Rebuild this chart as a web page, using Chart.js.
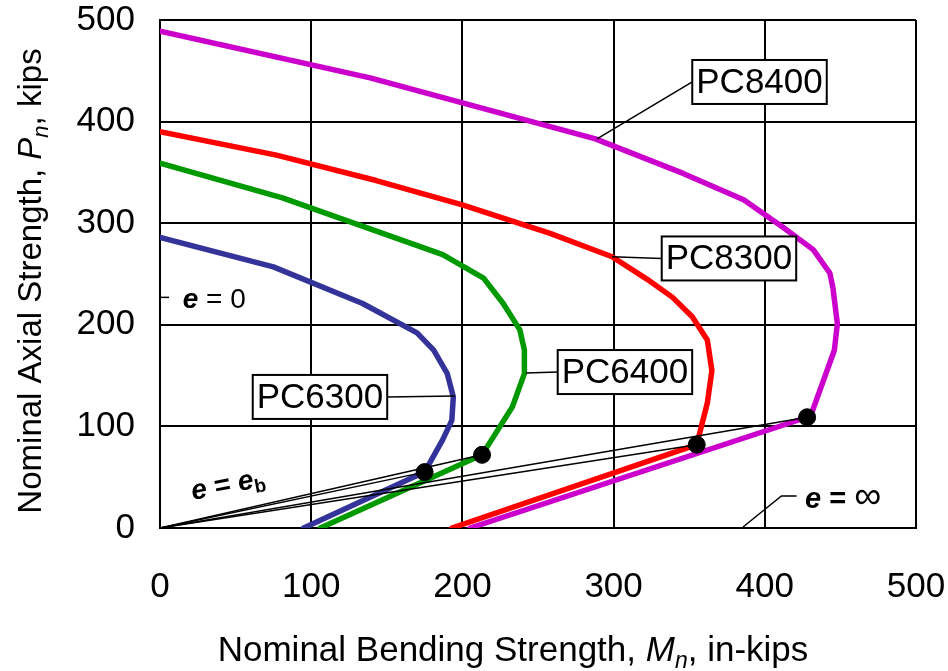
<!DOCTYPE html>
<html>
<head>
<meta charset="utf-8">
<script src="https://cdn.jsdelivr.net/npm/chart.js@4.4.0/dist/chart.umd.min.js"></script>
<style>html,body{margin:0;padding:0;background:#fff}</style>
</head>
<body>
<canvas id="c" width="948" height="671"></canvas>
<script>
// interaction curves: Mn (in-kips) vs Pn (kips)
const pc6300M = [0, 75, 134, 170, 181, 190, 194, 193, 187, 175, 95];
const pc6300P = [286, 257, 221, 192, 175, 152, 129, 106, 87, 55, 0];
const pc6400M = [0, 81, 187, 214, 227, 238, 241, 241, 233, 213, 106];
const pc6400P = [359, 325, 269, 246, 221, 195, 175, 152, 119, 72, 0];
const pc8300M = [0, 77, 143, 200, 258, 299, 322, 339, 352, 362, 365, 362, 355, 193];
const pc8300P = [390, 367, 342, 318, 290, 267, 245, 227, 208, 185, 155, 123, 82, 0];
const pc8400M = [0, 139, 288, 346, 386, 412, 432, 443, 445, 448, 446, 431, 428, 205];
const pc8400P = [489, 443, 383, 349, 323, 296, 274, 251, 237, 201, 175, 113, 109, 0];

// balanced points (e = eb)
const balM = [175, 213, 355, 428];
const balP = [55, 72, 82, 109];

const xTicks = [0, 100, 200, 300, 400, 500];
const yTicks = [0, 100, 200, 300, 400, 500];

const FONT = '"Liberation Sans", Arial, sans-serif';
const pts = (m, p) => m.map((v, i) => ({x: v, y: p[i]}));

function curve(label, m, p, color) {
  return {label, data: pts(m, p), showLine: true, borderColor: color, borderWidth: 5.5,
    pointRadius: 0, tension: 0, borderCapStyle: 'round', borderJoinStyle: 'round', order: 3};
}

const datasets = [
  {label: 'balanced', data: pts(balM, balP), showLine: false, pointRadius: 8.5,
   backgroundColor: '#000', borderColor: '#000', order: 1},
  ...balM.map((m, i) => ({label: 'eb' + i, data: [{x: 0, y: 0}, {x: m, y: balP[i]}], showLine: true,
    borderColor: '#000', borderWidth: 1.5, pointRadius: 0, order: 2})),
  curve('PC6300', pc6300M, pc6300P, '#333399'),
  curve('PC6400', pc6400M, pc6400P, '#009900'),
  curve('PC8300', pc8300M, pc8300P, '#ff0000'),
  curve('PC8400', pc8400M, pc8400P, '#cc00cc')
];

function drawRuns(ctx, parts, x, y, align) {
  let w = 0;
  parts.forEach(p => { ctx.font = p.f; w += ctx.measureText(p.t).width; });
  let cx = align === 'center' ? x - w / 2 : x;
  parts.forEach(p => {
    ctx.font = p.f;
    ctx.fillText(p.t, cx, y + (p.dy || 0));
    cx += ctx.measureText(p.t).width;
  });
}

const boxes = [
  {t: 'PC8400', x: 396.5, y: 439, from: [289, 383], side: 'l'},
  {t: 'PC8300', x: 376.3, y: 265.3, from: [299, 267], side: 'l'},
  {t: 'PC6400', x: 307.5, y: 153.5, from: [242, 152.5], side: 'l'},
  {t: 'PC6300', x: 105.8, y: 129, from: [195, 130], side: 'r'}
];

const notes = {
  id: 'notes',
  afterDatasetsDraw(chart) {
    const {ctx} = chart;
    const xs = chart.scales.x, ys = chart.scales.y;
    const X = v => xs.getPixelForValue(v), Y = v => ys.getPixelForValue(v);
    ctx.save();
    ctx.strokeStyle = '#000';
    ctx.fillStyle = '#000';

    // labelled boxes with leader lines
    ctx.font = '35px ' + FONT;
    boxes.forEach(b => {
      const w = ctx.measureText(b.t).width + 8, h = 44;
      const cx = X(b.x), cy = Y(b.y);
      const ex = b.side === 'l' ? cx - w / 2 : cx + w / 2;
      ctx.lineWidth = 1.5;
      ctx.beginPath();
      ctx.moveTo(X(b.from[0]), Y(b.from[1]));
      ctx.lineTo(ex, cy);
      ctx.stroke();
      ctx.fillStyle = '#fff';
      ctx.fillRect(cx - w / 2, cy - h / 2, w, h);
      ctx.lineWidth = 2;
      ctx.strokeRect(cx - w / 2, cy - h / 2, w, h);
      ctx.fillStyle = '#000';
      ctx.font = '35px ' + FONT;
      ctx.textAlign = 'center';
      ctx.textBaseline = 'middle';
      ctx.fillText(b.t, cx, cy + 1);
    });

    // e = 0
    ctx.lineWidth = 1.5;
    ctx.beginPath();
    ctx.moveTo(X(0), Y(227)); ctx.lineTo(X(6), Y(227));
    ctx.stroke();
    ctx.textAlign = 'left';
    ctx.textBaseline = 'alphabetic';
    drawRuns(ctx, [
      {t: 'e', f: 'italic bold 28px ' + FONT},
      {t: ' = 0', f: '28px ' + FONT}
    ], X(15), Y(226) + 10);

    // e = infinity
    ctx.beginPath();
    ctx.moveTo(X(385.6), Y(1)); ctx.lineTo(X(411), Y(31.5)); ctx.lineTo(X(421), Y(31.5));
    ctx.stroke();
    drawRuns(ctx, [
      {t: 'e', f: 'italic bold 29px ' + FONT},
      {t: ' = ', f: 'bold 29px ' + FONT},
      {t: '\u221E', f: '38px ' + FONT}
    ], X(426.6), Y(30.5) + 11);

    // e = eb (rotated along the lines)
    ctx.translate(X(21.8), Y(27.6));
    ctx.rotate(-0.19);
    drawRuns(ctx, [
      {t: 'e', f: 'italic bold 28px ' + FONT},
      {t: ' = ', f: 'bold 28px ' + FONT},
      {t: 'e', f: 'italic bold 28px ' + FONT},
      {t: 'b', f: 'bold 19px ' + FONT, dy: 5}
    ], 0, 0);
    ctx.restore();
  },
  afterDraw(chart) {
    const {ctx} = chart;
    ctx.save();
    ctx.fillStyle = '#000';
    ctx.textBaseline = 'alphabetic';
    drawRuns(ctx, [
      {t: 'Nominal Bending Strength, ', f: '35px ' + FONT},
      {t: 'M', f: 'italic 35px ' + FONT},
      {t: 'n', f: 'italic 23px ' + FONT, dy: 7},
      {t: ', in-kips', f: '35px ' + FONT}
    ], 513, 661, 'center');
    ctx.translate(41, 281);
    ctx.rotate(-Math.PI / 2);
    drawRuns(ctx, [
      {t: 'Nominal Axial Strength, ', f: '33px ' + FONT},
      {t: 'P', f: 'italic 33px ' + FONT},
      {t: 'n', f: 'italic 22px ' + FONT, dy: 7},
      {t: ', kips', f: '33px ' + FONT}
    ], 0, 0, 'center');
    ctx.restore();
  }
};

const noPad = s => { s.paddingTop = 0; s.paddingBottom = 0; s.paddingLeft = 0; s.paddingRight = 0; };

const axisCommon = {
  type: 'linear', min: 0, max: 500,
  grid: {color: '#000', lineWidth: 2, drawTicks: false},
  border: {color: '#000', width: 2}
};

new Chart(document.getElementById('c'), {
  type: 'scatter',
  data: {datasets},
  plugins: [notes],
  options: {
    responsive: false,
    devicePixelRatio: 1,
    animation: false,
    layout: {padding: {top: 20, right: 32, left: 0, bottom: 0}},
    plugins: {legend: {display: false}, tooltip: {enabled: false}},
    scales: {
      x: {...axisCommon,
        afterBuildTicks: s => { s.ticks = xTicks.map(v => ({value: v})); },
        ticks: {color: '#000', padding: 38, font: {family: FONT, size: 35}},
        afterFit: s => { s.height = 143; noPad(s); }
      },
      y: {...axisCommon,
        afterBuildTicks: s => { s.ticks = yTicks.map(v => ({value: v})); },
        ticks: {color: '#000', padding: 25, font: {family: FONT, size: 35}},
        afterFit: s => { s.width = 160; noPad(s); }
      }
    }
  }
});
</script>
</body>
</html>
